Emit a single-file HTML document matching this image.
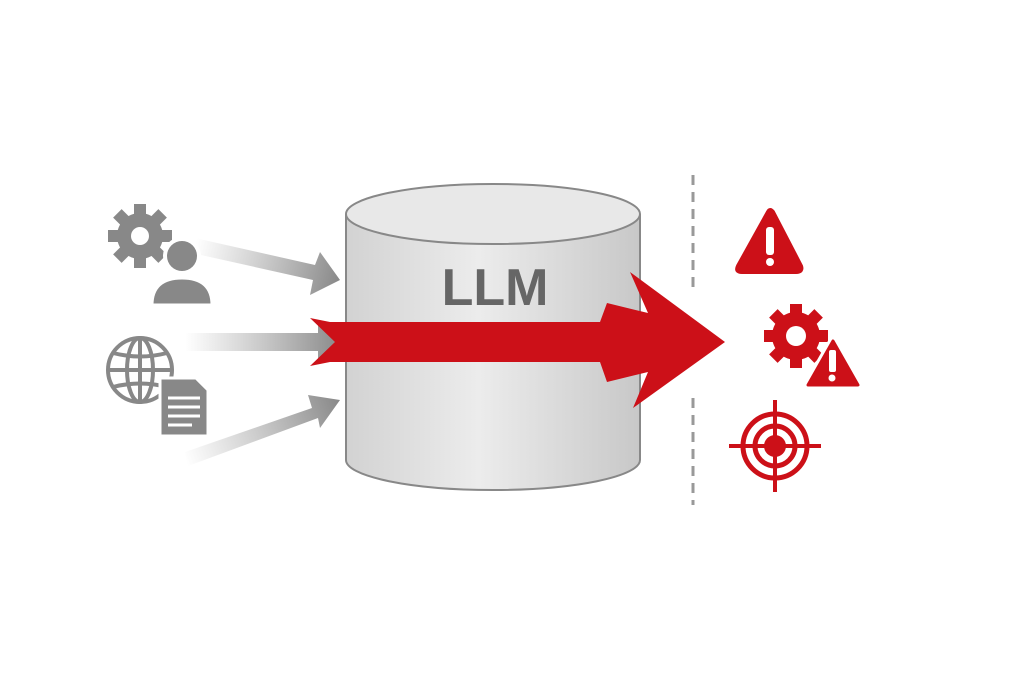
<!DOCTYPE html>
<html><head><style>body{margin:0;background:#fff}svg{display:block}</style></head><body>
<svg width="1030" height="688" viewBox="0 0 1030 688" xmlns="http://www.w3.org/2000/svg">
<defs>
<linearGradient id="cyl" x1="0" x2="1"><stop offset="0" stop-color="#d2d2d2"/><stop offset=".45" stop-color="#ececec"/><stop offset="1" stop-color="#c8c8c8"/></linearGradient>
<linearGradient id="g1" x1="0" x2="1"><stop offset="0" stop-color="#999" stop-opacity="0"/><stop offset="1" stop-color="#888"/></linearGradient>
<linearGradient id="g2" gradientUnits="userSpaceOnUse" x1="185" y1="460" x2="340" y2="400"><stop offset="0" stop-color="#999" stop-opacity="0"/><stop offset="1" stop-color="#888"/></linearGradient>
<linearGradient id="g3" gradientUnits="userSpaceOnUse" x1="195" y1="245" x2="340" y2="280"><stop offset="0" stop-color="#999" stop-opacity="0"/><stop offset="1" stop-color="#888"/></linearGradient>
</defs>
<path d="M346,215 L346,460 A147,30 0 0 0 640,460 L640,215 Z" fill="url(#cyl)" stroke="#888" stroke-width="2"/>
<ellipse cx="493" cy="214" rx="147" ry="30" fill="#e8e8e8" stroke="#888" stroke-width="2"/>
<text x="495" y="305" text-anchor="middle" font-family="Liberation Sans, sans-serif" font-weight="bold" font-size="52" fill="#666">LLM</text>
<polygon points="195,238 315,265 320,252 340,280 310,295 313,280 192,253" fill="url(#g3)"/>
<polygon points="185,333 318,333 318,320 342,342 318,364 318,351 185,351" fill="url(#g1)"/>
<polygon points="185,452 312,408 308,395 340,400 320,428 318,418 188,466" fill="url(#g2)"/>
<line x1="693" y1="175" x2="693" y2="287" stroke="#999" stroke-width="3" stroke-dasharray="10,7"/>
<line x1="693" y1="398" x2="693" y2="505" stroke="#999" stroke-width="3" stroke-dasharray="10,7"/>
<polygon points="310,318 330,322 600,322 607,303 648,313 630,272 725,342 633,408 648,372 607,382 600,362 330,362 310,366 335,342" fill="#cc1018"/>
<g fill="#888">
<g transform="translate(140,236)">
<circle r="23"/>
<g id="teeth"><rect x="-6" y="-32" width="12" height="12"/><rect x="-6" y="20" width="12" height="12"/><rect x="20" y="-6" width="12" height="12"/><rect x="-32" y="-6" width="12" height="12"/></g>
<use href="#teeth" transform="rotate(45)"/>
<circle r="9" fill="#fff"/>
</g>
<circle cx="182" cy="256" r="19" fill="#fff"/>
<circle cx="182" cy="256" r="15"/>
<path d="M152,305 Q152,278 182,278 Q212,278 212,305 Z" stroke="#fff" stroke-width="3"/>
</g>
<g fill="none" stroke="#888" stroke-width="4">
<circle cx="140" cy="370" r="32"/>
<ellipse cx="140" cy="370" rx="13" ry="32"/>
<line x1="140" y1="338" x2="140" y2="402"/>
<line x1="108" y1="370" x2="172" y2="370"/>
<path d="M113,353 Q140,360 167,353 M113,387 Q140,380 167,387"/>
</g>
<path d="M160,378 L196,378 L208,390 L208,436 L160,436 Z" fill="#888" stroke="#fff" stroke-width="3"/>
<g stroke="#fff" stroke-width="3"><line x1="168" y1="398" x2="200" y2="398"/><line x1="168" y1="407" x2="200" y2="407"/><line x1="168" y1="416" x2="200" y2="416"/><line x1="168" y1="425" x2="192" y2="425"/></g>
<g fill="#cc1018">
<path d="M768,212 Q770,208 773,212 L801,266 Q803,272 796,272 L742,272 Q735,272 738,266 Z" stroke="#cc1018" stroke-width="4" stroke-linejoin="round"/>
<rect x="766" y="227" width="8" height="28" rx="3" fill="#fff"/><circle cx="770" cy="262" r="4" fill="#fff"/>
<g transform="translate(796,336)">
<circle r="24"/>
<g id="t2"><rect x="-6" y="-32" width="12" height="12"/><rect x="-6" y="20" width="12" height="12"/><rect x="20" y="-6" width="12" height="12"/><rect x="-32" y="-6" width="12" height="12"/></g>
<use href="#t2" transform="rotate(45)"/>
<circle r="10" fill="#fff"/>
</g>
<path d="M833,337 L862,388 L804,388 Z" stroke="#fff" stroke-width="5" stroke-linejoin="round"/>
<path d="M833,341 L858,385 L808,385 Z" stroke="#cc1018" stroke-width="3" stroke-linejoin="round"/>
<rect x="829" y="350" width="7" height="22" rx="2" fill="#fff"/><circle cx="832" cy="378" r="3.5" fill="#fff"/>
</g>
<g fill="none" stroke="#cc1018" stroke-width="5">
<circle cx="775" cy="446" r="32"/><circle cx="775" cy="446" r="20"/>
<line x1="729" y1="446" x2="821" y2="446" stroke-width="4"/><line x1="775" y1="400" x2="775" y2="492" stroke-width="4"/>
</g>
<circle cx="775" cy="446" r="11" fill="#cc1018"/>
</svg>
</body></html>
